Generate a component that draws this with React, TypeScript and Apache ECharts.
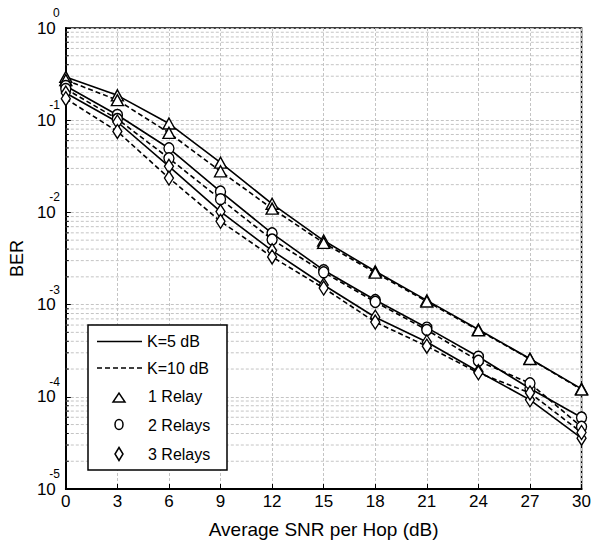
import React, { useEffect, useRef } from "react";
import * as echarts from "echarts";

// ---- data ----
const snr = [0, 3, 6, 9, 12, 15, 18, 21, 24, 27, 30];
const relay1K5 = [0.295, 0.186, 0.092, 0.0346, 0.0124, 0.00495, 0.0023, 0.00111, 0.000536, 0.000259, 0.000122];
const relay1K10 = [0.273, 0.165, 0.0729, 0.0279, 0.011, 0.00467, 0.00222, 0.00108, 0.000527, 0.000257, 0.00012];
const relay2K5 = [0.235, 0.114, 0.0496, 0.0168, 0.00592, 0.00236, 0.00112, 0.000562, 0.000272, 0.000123, 0.0000596];
const relay2K10 = [0.218, 0.103, 0.0386, 0.0139, 0.00508, 0.00224, 0.00107, 0.000531, 0.000245, 0.00014, 0.0000472];
const relay3K5 = [0.197, 0.0956, 0.0316, 0.0102, 0.00385, 0.00163, 0.00073, 0.000393, 0.000188, 0.0000927, 0.0000356];
const relay3K10 = [0.171, 0.0755, 0.0236, 0.008, 0.00329, 0.00151, 0.000646, 0.000354, 0.000182, 0.00011, 0.000041];

const minorDecades = [1e-5, 1e-4, 1e-3, 1e-2, 1e-1];
const minorMultipliers = [2, 3, 4, 5, 6, 7, 8, 9];
const legendLineLabels = ["K=5 dB", "K=10 dB"];
const legendMarkerLabels = ["1 Relay", "2 Relays", "3 Relays"];
const xTitle = "Average SNR per Hop (dB)";
const yTitle = "BER";

const FONT = '"Liberation Sans", Arial, Helvetica, sans-serif';
const DASH = [5, 3];
const GRID_COLOR = "#c4c4c4";

export default function App() {
  const ref = useRef<HTMLDivElement>(null);

  useEffect(() => {
    if (!ref.current) return;
    const chart = echarts.init(ref.current, undefined, { renderer: "svg" });

    const minorValues: number[] = [];
    minorDecades.forEach((d) => minorMultipliers.forEach((m) => minorValues.push(d * m)));

    const mk = (vals: number[]) => snr.map((x, i) => [x, vals[i]]);

    const lineSeries = (
      name: string,
      vals: number[],
      dashed: boolean,
      symbol: string,
      size: number[]
    ) => ({
      name,
      type: "line",
      data: mk(vals),
      symbol,
      symbolSize: size,
      showSymbol: true,
      lineStyle: { color: "#000", width: 1.6, type: dashed ? DASH : "solid" },
      itemStyle: { color: "#fff", borderColor: "#000", borderWidth: 1.4 },
      z: 5,
      silent: true,
    });

    const triSize = [12, 11];
    const cirSize = [10, 11];
    const diaSize = [9, 14];

    const LZ = 100;
    const legendText = (text: string, x: number, y: number) => ({
      type: "text",
      z: LZ + 1,
      style: { text, x, y, fontSize: 16, fontFamily: FONT, fill: "#000", verticalAlign: "middle", align: "left" },
    });

    const option: any = {
      animation: false,
      backgroundColor: "#fff",
      textStyle: { fontFamily: FONT },
      grid: {
        left: 61,
        right: 7,
        top: 28,
        bottom: 55,
        show: true,
        borderColor: "#000",
        borderWidth: 1.5,
        backgroundColor: "transparent",
      },
      xAxis: {
        type: "value",
        min: 0,
        max: 30,
        interval: 3,
        name: xTitle,
        nameLocation: "middle",
        nameGap: 31,
        nameTextStyle: { fontSize: 19, color: "#000", fontFamily: FONT },
        axisLine: { show: true, lineStyle: { color: "#000", width: 2 } },
        axisTick: { show: true, inside: true, length: 5, lineStyle: { color: "#000", width: 1 } },
        axisLabel: { color: "#000", fontSize: 17, margin: 4, fontFamily: FONT },
        splitLine: { show: true, lineStyle: { color: GRID_COLOR, width: 1, type: [3, 2] } },
      },
      yAxis: {
        type: "log",
        logBase: 10,
        min: 1e-5,
        max: 1,
        splitNumber: 5,
        name: yTitle,
        nameLocation: "middle",
        nameGap: 36,
        nameRotate: 90,
        nameTextStyle: { fontSize: 18, color: "#000", fontFamily: FONT },
        axisLine: { show: true, lineStyle: { color: "#000", width: 2 } },
        axisTick: { show: true, inside: true, length: 5, lineStyle: { color: "#000", width: 1 } },
        minorTick: { show: false },
        axisLabel: {
          color: "#000",
          margin: 6,
          align: "right",
          padding: [0, 0, 12, 0],
          formatter: (v: number) => {
            const e = Math.round(Math.log10(v));
            return "{e|" + String(e) + "}\n{b|10}";
          },
          rich: {
            e: { fontSize: 12, lineHeight: 12, fontFamily: FONT, color: "#000", align: "right" },
            b: { fontSize: 17, lineHeight: 18, fontFamily: FONT, color: "#000", align: "right", padding: [0, 4, 0, 0] },
          },
        },
        splitLine: { show: true, lineStyle: { color: GRID_COLOR, width: 1, type: [3, 2] } },
      },
      series: [
        {
          type: "custom",
          silent: true,
          z: 1,
          data: minorValues.map((v) => [0, v]),
          renderItem: (params: any, api: any) => {
            const v = api.value(1);
            const p0 = api.coord([0, v]);
            const p1 = api.coord([30, v]);
            return {
              type: "group",
              children: [
                {
                  type: "line",
                  shape: { x1: p0[0], y1: p0[1], x2: p1[0], y2: p1[1] },
                  style: { stroke: GRID_COLOR, lineWidth: 1, lineDash: [3, 2] },
                },
                {
                  type: "line",
                  shape: { x1: p0[0], y1: p0[1], x2: p0[0] + 3, y2: p0[1] },
                  style: { stroke: "#000", lineWidth: 1 },
                },
              ],
            };
          },
        },
        lineSeries("1 Relay, K=5 dB", relay1K5, false, "triangle", triSize),
        lineSeries("1 Relay, K=10 dB", relay1K10, true, "triangle", triSize),
        lineSeries("2 Relays, K=5 dB", relay2K5, false, "circle", cirSize),
        lineSeries("2 Relays, K=10 dB", relay2K10, true, "circle", cirSize),
        lineSeries("3 Relays, K=5 dB", relay3K5, false, "diamond", diaSize),
        lineSeries("3 Relays, K=10 dB", relay3K10, true, "diamond", diaSize),
      ],
      graphic: [
        {
          type: "rect",
          z: LZ,
          shape: { x: 88, y: 325, width: 139, height: 145 },
          style: { fill: "#fff", stroke: "#000", lineWidth: 1.5 },
        },
        {
          type: "line",
          z: LZ + 1,
          shape: { x1: 97, y1: 341.5, x2: 142, y2: 341.5 },
          style: { stroke: "#000", lineWidth: 1.6 },
        },
        legendText(legendLineLabels[0], 147, 341.5),
        {
          type: "line",
          z: LZ + 1,
          shape: { x1: 97, y1: 368, x2: 142, y2: 368 },
          style: { stroke: "#000", lineWidth: 1.6, lineDash: DASH },
        },
        legendText(legendLineLabels[1], 147, 368),
        {
          type: "polygon",
          z: LZ + 1,
          shape: { points: [[113, 402], [125, 402], [119, 393]] },
          style: { fill: "#fff", stroke: "#000", lineWidth: 1.5 },
        },
        legendText(legendMarkerLabels[0], 148, 396),
        {
          type: "ellipse",
          z: LZ + 1,
          shape: { cx: 119, cy: 424.5, rx: 4, ry: 5 },
          style: { fill: "#fff", stroke: "#000", lineWidth: 1.5 },
        },
        legendText(legendMarkerLabels[1], 148, 425),
        {
          type: "polygon",
          z: LZ + 1,
          shape: { points: [[119, 447.5], [123, 454], [119, 460.5], [115, 454]] },
          style: { fill: "#fff", stroke: "#000", lineWidth: 1.5 },
        },
        legendText(legendMarkerLabels[2], 148, 454),
      ],
    };

    chart.setOption(option);
    return () => {
      chart.dispose();
    };
  }, []);

  return (
    <div
      ref={ref}
      style={{ position: "absolute", left: 0, top: 0, width: 594, height: 544 }}
    />
  );
}
